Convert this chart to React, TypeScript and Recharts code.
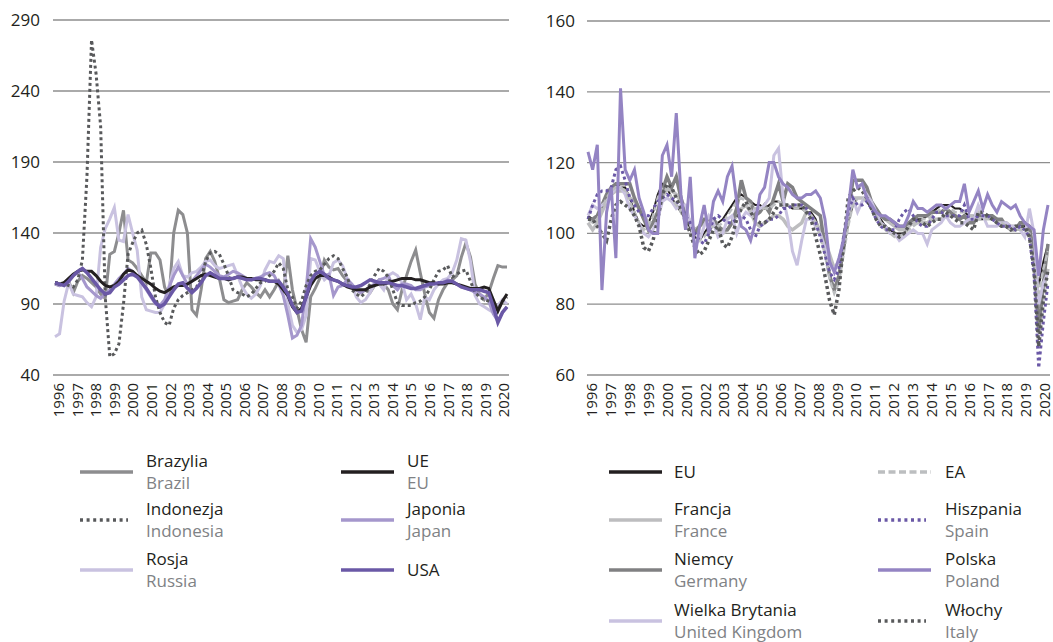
import { LineChart, Line, XAxis, YAxis, CartesianGrid } from 'recharts';

const FONT = "'Open Sans', 'Noto Sans', sans-serif";

// quarterly observations, 1996 onwards
const years = [
  '1996', '1997', '1998', '1999', '2000', '2001', '2002', '2003', '2004', '2005', '2006', '2007', '2008',
  '2009', '2010', '2011', '2012', '2013', '2014', '2015', '2016', '2017', '2018', '2019', '2020',
];
const leftTicks = [40, 90, 140, 190, 240, 290];
const rightTicks = [60, 80, 100, 120, 140, 160];

// left panel
const brazil = [
  104, 103, 105, 106, 98, 106, 110, 108, 105, 102,
  97, 94, 125, 127, 140, 156, 121, 119, 115, 110,
  105, 126, 126, 121, 102, 95, 140, 156, 153, 140,
  86, 82, 100, 122, 127, 120, 108, 93, 91, 92,
  93, 100, 105, 102, 98, 95, 100, 95, 100, 106,
  98, 124, 100, 86, 72, 63, 95, 101, 108, 121,
  116, 114, 115, 110, 106, 102, 100, 98, 100, 98,
  103, 107, 104, 100, 90, 86, 100, 110, 120, 128,
  112, 97, 84, 80, 93, 100, 105, 107, 110, 123,
  133, 123, 104, 97, 93, 98, 108, 117, 116, 116,
];
const indonesia = [
  105, 105, 104, 103, 102, 107, 121, 180, 276, 252,
  215, 95, 53, 55, 62, 90, 125, 133, 140, 142,
  132, 115, 95, 84, 77, 75, 87, 93, 96, 98,
  100, 102, 108, 120, 126, 127, 125, 118, 110, 100,
  98, 97, 95, 97, 101, 105, 106, 110, 113, 119,
  115, 100, 95, 87, 92, 103, 110, 113, 114, 118,
  122, 124, 122, 115, 109, 100, 97, 95, 98, 104,
  110, 115, 113, 109, 100, 91, 89, 89, 89, 91,
  92, 95, 100, 107, 113, 114, 117, 109, 111, 113,
  114, 106, 98, 95, 93, 92, 90, 86, 92, 95,
];
const russia = [
  67, 69, 92, 105, 97, 96, 95, 91, 88, 95,
  130, 143, 150, 158, 135, 134, 153, 140, 128, 95,
  86, 85, 84, 84, 90, 103, 115, 120, 110, 109,
  112, 113, 116, 120, 121, 117, 115, 116, 117, 118,
  110, 102, 97, 94, 97, 103, 114, 120, 119, 124,
  122, 90, 75, 70, 72, 82, 122, 121, 113, 107,
  110, 119, 121, 117, 108, 104, 95, 91, 93, 98,
  104, 104, 100, 110, 112, 110, 105, 93, 97, 90,
  79, 95, 93, 100, 104, 107, 108, 112, 121, 136,
  135, 120, 96, 90, 88, 86, 84, 89, 93, 90,
];
const eu = [
  105, 104, 105, 108, 111, 113, 114, 113, 113, 110,
  106, 103, 102, 103, 106, 111, 114, 113, 110, 108,
  106, 104, 101, 99, 98, 100, 102, 103, 103, 104,
  106, 108, 110, 111, 110, 109, 108, 108, 107, 108,
  109, 109, 108, 108, 107, 107, 107, 106, 106, 104,
  100, 96, 88, 84, 87, 95, 103, 108, 110, 110,
  109, 107, 106, 104, 102, 101, 100, 100, 100, 102,
  103, 104, 104, 105, 106, 107, 108, 108, 108, 107,
  107, 106, 105, 105, 104, 104, 105, 105, 104, 103,
  102, 101, 101, 101, 102, 101, 93, 85, 92, 97,
];
const japan = [
  104, 103, 105, 107, 110, 112, 108, 102, 99, 96,
  94, 97, 100, 104, 108, 111, 115, 113, 110, 105,
  100, 95, 90, 89, 93, 102, 110, 116, 110, 104,
  106, 110, 114, 118, 116, 113, 110, 109, 111, 113,
  112, 110, 108, 107, 108, 109, 111, 112, 110, 104,
  96, 82, 66, 68, 75, 100, 136, 130, 120, 110,
  111, 96, 102, 103, 107, 104, 100, 98, 100, 102,
  104, 107, 108, 110, 103, 100, 104, 104, 103, 100,
  100, 102, 103, 105, 104, 105, 107, 106, 104, 102,
  101, 100, 98, 97, 95, 92, 83, 78, 84, 88,
];
const usa = [
  105, 104, 103, 106, 110, 113, 115, 112, 108, 104,
  100, 97, 98, 102, 104, 107, 110, 111, 109, 105,
  101, 96, 91, 88, 90, 95, 100, 104, 105, 101,
  98, 101, 105, 110, 112, 110, 108, 108, 108, 108,
  109, 108, 107, 107, 108, 108, 107, 106, 106, 106,
  102, 97, 89, 84, 85, 95, 106, 111, 113, 111,
  108, 107, 106, 104, 103, 102, 102, 103, 105, 107,
  106, 105, 105, 105, 104, 103, 103, 102, 101, 101,
  102, 103, 104, 104, 105, 105, 106, 106, 104, 102,
  101, 100, 100, 100, 99, 98, 88, 77, 84, 88,
];

// right panel
const ea = [
  104, 103, 104, 107, 110, 112, 113, 113, 112, 109,
  106, 103, 101, 102, 105, 110, 113, 113, 110, 108,
  106, 103, 100, 98, 98, 99, 101, 102, 102, 103,
  105, 107, 109, 110, 109, 108, 107, 107, 107, 107,
  108, 109, 108, 108, 107, 107, 107, 106, 105, 103,
  99, 94, 87, 83, 86, 94, 102, 108, 110, 110,
  109, 107, 105, 103, 101, 100, 99, 99, 100, 101,
  102, 103, 104, 104, 105, 106, 107, 107, 107, 106,
  106, 106, 105, 105, 104, 104, 104, 104, 103, 103,
  102, 101, 101, 101, 101, 100, 91, 83, 90, 95,
];
const france = [
  103, 101, 103, 106, 109, 111, 112, 112, 112, 110,
  109, 107, 105, 103, 103, 106, 110, 113, 112, 111,
  109, 106, 103, 101, 102, 103, 104, 104, 102, 100,
  101, 103, 105, 107, 108, 106, 103, 102, 103, 104,
  105, 105, 104, 102, 101, 102, 103, 106, 105, 103,
  101, 98, 94, 90, 92, 98, 104, 110, 110, 110,
  110, 108, 107, 105, 104, 103, 102, 101, 101, 102,
  103, 103, 103, 103, 104, 104, 104, 105, 105, 105,
  104, 105, 104, 104, 106, 105, 105, 104, 104, 103,
  103, 102, 102, 102, 101, 100, 95, 79, 84, 90,
];
const germany = [
  104, 104, 105, 108, 111, 113, 114, 114, 114, 114,
  110, 107, 104, 101, 103, 106, 112, 116, 113, 116,
  110, 106, 103, 100, 102, 104, 104, 104, 102, 101,
  101, 103, 107, 115, 110, 109, 105, 106, 108, 106,
  110, 114, 109, 114, 113, 110, 109, 108, 107, 106,
  105, 96, 88, 84, 88, 96, 105, 115, 115, 115,
  113, 109, 107, 105, 104, 104, 103, 102, 102, 103,
  104, 105, 105, 105, 106, 106, 106, 107, 106, 105,
  104, 105, 103, 103, 105, 105, 105, 105, 104, 104,
  102, 101, 101, 103, 103, 102, 94, 72, 86, 97,
];
const uk = [
  105, 108, 107, 108, 109, 111, 113, 113, 111, 107,
  105, 103, 100, 99, 101, 104, 109, 110, 109, 107,
  108, 108, 103, 97, 98, 102, 105, 103, 99, 100,
  104, 105, 100, 104, 106, 105, 107, 107, 108, 110,
  122, 124, 110, 104, 95, 91, 98, 104, 104, 102,
  100, 96, 91, 90, 92, 99, 106, 110, 106, 109,
  111, 109, 106, 103, 102, 100, 100, 98, 99, 100,
  101, 100, 100, 97, 101, 102, 103, 105, 103, 102,
  102, 103, 104, 104, 108, 105, 102, 102, 102, 103,
  103, 102, 102, 101, 99, 107, 100, 80, 86, 89,
];
const spain = [
  104, 108, 111, 112, 112, 113, 118, 119, 115, 110,
  108, 106, 105, 105, 107, 109, 110, 111, 110, 109,
  108, 105, 103, 100, 98, 97, 100, 104, 105, 104,
  103, 103, 104, 105, 104, 101, 99, 102, 103, 104,
  104, 105, 107, 107, 108, 108, 108, 107, 105, 103,
  99, 94, 89, 87, 90, 99, 106, 110, 108, 108,
  109, 107, 104, 102, 101, 101, 101, 104, 106, 107,
  105, 103, 102, 102, 104, 106, 106, 105, 105, 105,
  105, 108, 104, 104, 105, 105, 105, 104, 103, 102,
  102, 102, 101, 102, 101, 99, 88, 62, 75, 86,
];
const poland = [
  123, 118, 125, 84, 106, 113, 93, 141, 118, 115,
  118, 110, 106, 101, 100, 100, 122, 125, 116, 134,
  111, 101, 116, 93, 102, 108, 100, 109, 112, 109,
  116, 119, 109, 102, 101, 98, 103, 111, 113, 120,
  120, 116, 114, 113, 111, 110, 110, 111, 111, 112,
  110, 104, 92, 89, 93, 98, 107, 118, 113, 114,
  110, 108, 106, 105, 105, 104, 103, 102, 102, 105,
  109, 107, 107, 106, 107, 108, 108, 107, 108, 109,
  109, 114, 106, 109, 112, 107, 111, 108, 106, 109,
  108, 107, 108, 105, 103, 102, 101, 88, 101, 108,
];
const italy = [
  104, 104, 102, 100, 98, 104, 108, 109, 108, 107,
  105, 102, 96, 95, 98, 104, 111, 114, 113, 110,
  107, 104, 100, 96, 94, 95, 98, 101, 102, 97,
  96, 99, 104, 107, 109, 106, 104, 103, 103, 104,
  106, 108, 108, 108, 108, 108, 108, 106, 104, 99,
  94, 88, 81, 77, 84, 97, 110, 112, 113, 112,
  110, 107, 104, 102, 102, 101, 100, 99, 100, 102,
  104, 104, 103, 102, 103, 104, 104, 106, 105, 104,
  103, 103, 102, 101, 106, 106, 105, 104, 103, 102,
  102, 101, 102, 102, 102, 99, 90, 68, 81, 90,
];

const leftRows = brazil.map((v, i) => ({
  i, brazil: v, indonesia: indonesia[i], russia: russia[i], eu: eu[i], japan: japan[i], usa: usa[i],
}));
const rightRows = eu.map((v, i) => ({
  i, eu: v, ea: ea[i], france: france[i], germany: germany[i], uk: uk[i],
  spain: spain[i], poland: poland[i], italy: italy[i],
}));

const TICK0 = 0.85;
const TICK_STEP = 4.06;
const yearTicks = years.map((_, k) => TICK0 + k * TICK_STEP);

function YearTick(props: any) {
  const { x, y, payload } = props;
  const k = Math.round((payload.value - TICK0) / TICK_STEP);
  return (
    <text
      transform={`translate(${x},${y}) rotate(-90)`}
      textAnchor="end"
      dy="0.36em"
      fontSize={15}
      fill="#231f20"
    >
      {years[k]}
    </text>
  );
}

function LegendRow({ lineX, lineW, textX, y, color, width = 3.5, dash, pl, en }: any) {
  return (
    <>
      <svg style={{ position: 'absolute', left: lineX, top: y - 5, width: lineW, height: 10 }}>
        <line x1={0} y1={5} x2={lineW} y2={5} stroke={color} strokeWidth={width} strokeDasharray={dash} />
      </svg>
      <div
        style={{
          position: 'absolute', left: textX, top: en ? y - 22 : y - 11,
          fontSize: 17, lineHeight: '22px', whiteSpace: 'nowrap',
        }}
      >
        <div style={{ color: '#231f20' }}>{pl}</div>
        {en && <div style={{ color: '#808285' }}>{en}</div>}
      </div>
    </>
  );
}

const gridColor = '#8e8e8e';
const yTick = { fill: '#231f20', fontSize: 17 };

export default function App() {
  return (
    <div
      style={{
        position: 'absolute', left: 0, top: 0, width: 1053, height: 642,
        background: '#fff', fontFamily: FONT, overflow: 'hidden',
      }}
    >
      <div style={{ position: 'absolute', left: 0, top: 0 }}>
        <LineChart width={520} height={430} data={leftRows} margin={{ top: 20, right: 11, bottom: 0, left: 0 }}>
          <CartesianGrid vertical={false} stroke={gridColor} strokeWidth={1.3} />
          <XAxis
            dataKey="i" type="number" domain={[0, 99]} ticks={yearTicks} interval={0}
            tick={<YearTick />} axisLine={false} tickLine={false} height={55}
            padding={{ left: 2, right: 2 }}
          />
          <YAxis
            domain={[40, 290]} ticks={leftTicks} interval={0} tick={yTick}
            axisLine={false} tickLine={false} width={53} tickMargin={7}
          />
          <Line type="linear" dataKey="brazil" stroke="#8d8d8f" strokeWidth={3} dot={false} isAnimationActive={false} />
          <Line type="linear" dataKey="russia" stroke="#c9c2e0" strokeWidth={3} dot={false} isAnimationActive={false} />
          <Line type="linear" dataKey="japan" stroke="#a597cc" strokeWidth={3} dot={false} isAnimationActive={false} />
          <Line type="linear" dataKey="indonesia" stroke="#58595b" strokeWidth={3} strokeDasharray="3 3" dot={false} isAnimationActive={false} />
          <Line type="linear" dataKey="eu" stroke="#231f20" strokeWidth={3} dot={false} isAnimationActive={false} />
          <Line type="linear" dataKey="usa" stroke="#6a58a6" strokeWidth={3.5} dot={false} isAnimationActive={false} />
        </LineChart>
      </div>

      <div style={{ position: 'absolute', left: 530, top: 0 }}>
        <LineChart width={523} height={430} data={rightRows} margin={{ top: 21, right: 3, bottom: 0, left: 0 }}>
          <CartesianGrid vertical={false} stroke={gridColor} strokeWidth={1.3} />
          <XAxis
            dataKey="i" type="number" domain={[0, 99]} ticks={yearTicks} interval={0}
            tick={<YearTick />} axisLine={false} tickLine={false} height={55}
            padding={{ left: 1, right: 2 }}
          />
          <YAxis
            domain={[60, 160]} ticks={rightTicks} interval={0} tick={yTick}
            axisLine={false} tickLine={false} width={57} tickMargin={6}
          />
          <Line type="linear" dataKey="eu" stroke="#231f20" strokeWidth={2} dot={false} isAnimationActive={false} />
          <Line type="linear" dataKey="france" stroke="#bdbdbf" strokeWidth={3.5} dot={false} isAnimationActive={false} />
          <Line type="linear" dataKey="germany" stroke="#808082" strokeWidth={3.5} dot={false} isAnimationActive={false} />
          <Line type="linear" dataKey="uk" stroke="#c9c2e0" strokeWidth={3} dot={false} isAnimationActive={false} />
          <Line type="linear" dataKey="ea" stroke="#bcbec0" strokeWidth={2.5} strokeDasharray="6 3" dot={false} isAnimationActive={false} />
          <Line type="linear" dataKey="spain" stroke="#6a58a6" strokeWidth={3} strokeDasharray="3 3" dot={false} isAnimationActive={false} />
          <Line type="linear" dataKey="italy" stroke="#58595b" strokeWidth={3.5} strokeDasharray="3 3" dot={false} isAnimationActive={false} />
          <Line type="linear" dataKey="poland" stroke="#9484c3" strokeWidth={3} dot={false} isAnimationActive={false} />
        </LineChart>
      </div>

      {/* left legend */}
      <LegendRow lineX={80} lineW={53} textX={146} y={472} color="#8d8d8f" pl="Brazylia" en="Brazil" />
      <LegendRow lineX={80} lineW={48} textX={146} y={520} color="#58595b" dash="3 3.6" pl="Indonezja" en="Indonesia" />
      <LegendRow lineX={80} lineW={53} textX={146} y={570} color="#c9c2e0" pl="Rosja" en="Russia" />
      <LegendRow lineX={341} lineW={53} textX={407} y={472} color="#231f20" pl="UE" en="EU" />
      <LegendRow lineX={341} lineW={53} textX={407} y={520} color="#a597cc" pl="Japonia" en="Japan" />
      <LegendRow lineX={341} lineW={53} textX={407} y={570} color="#6a58a6" pl="USA" />

      {/* right legend */}
      <LegendRow lineX={609} lineW={53} textX={674} y={472} color="#231f20" pl="EU" />
      <LegendRow lineX={609} lineW={53} textX={674} y={520} color="#bdbdbf" pl="Francja" en="France" />
      <LegendRow lineX={609} lineW={53} textX={674} y={570} color="#808082" pl="Niemcy" en="Germany" />
      <LegendRow lineX={609} lineW={53} textX={674} y={621} color="#c9c2e0" pl="Wielka Brytania" en="United Kingdom" />
      <LegendRow lineX={878} lineW={53} textX={945} y={472} color="#bcbec0" dash="7 3.5" pl="EA" />
      <LegendRow lineX={878} lineW={48} textX={945} y={520} color="#6a58a6" dash="3 3.6" pl="Hiszpania" en="Spain" />
      <LegendRow lineX={878} lineW={53} textX={945} y={570} color="#9484c3" pl="Polska" en="Poland" />
      <LegendRow lineX={878} lineW={48} textX={945} y={621} color="#58595b" dash="3 3.6" pl="Włochy" en="Italy" />
    </div>
  );
}
